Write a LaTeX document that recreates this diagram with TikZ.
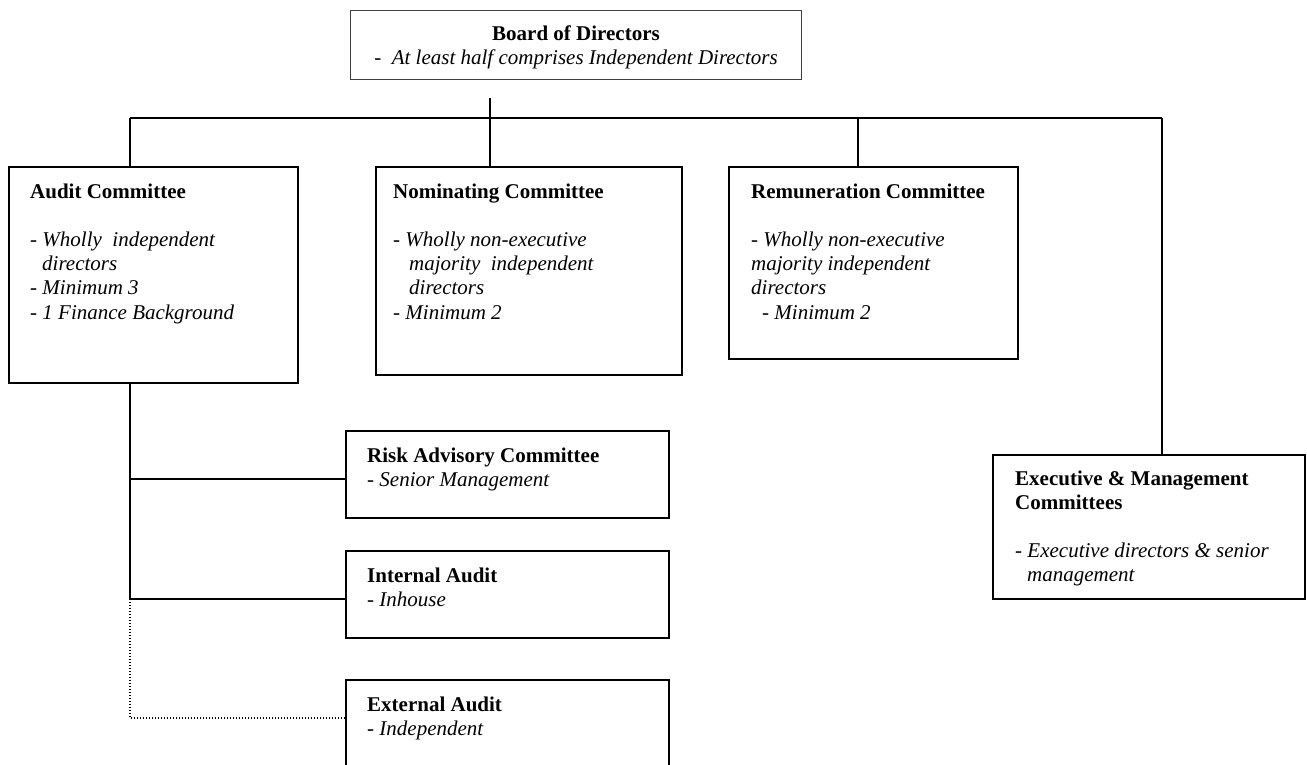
\documentclass[tikz,border=0pt]{standalone}
\usepackage{fontspec}
\setmainfont{Liberation Serif}
\newcommand\boxlines[1]{\begin{tabular}[t]{@{}l@{}}#1\end{tabular}}
\newcommand\boxlinesc[1]{\begin{tabular}[t]{@{}c@{}}#1\end{tabular}}
\begin{document}
\begin{tikzpicture}[x=1pt,y=-1pt,
  box/.style={draw, line width=1.6pt, anchor=north west, inner sep=0pt, outer sep=0pt},
  topbox/.style={draw=black!75, line width=1pt, anchor=north west, inner sep=0pt, outer sep=0pt},
  txt/.style={anchor=base west, inner sep=0pt, font=\fontsize{21}{24.2}\selectfont},
  conn/.style={line width=1.6pt},
  dotconn/.style={line width=1.3pt, dash pattern=on 1.3pt off 1.7pt}]
\useasboundingbox (0,0) rectangle (1307,764);

% boxes
\node[topbox, minimum width=451pt, minimum height=69pt] (board) at (350,10) {};
\node[box, minimum width=289pt, minimum height=216pt] (audit) at (9,167) {};
\node[box, minimum width=306pt, minimum height=208pt] (nom) at (376,167) {};
\node[box, minimum width=289pt, minimum height=192pt] (rem) at (729,167) {};
\node[box, minimum width=323pt, minimum height=87pt] (risk) at (346,431) {};
\node[box, minimum width=323pt, minimum height=87pt] (ia) at (346,551) {};
\node[box, minimum width=323pt, minimum height=110pt] (ea) at (346,680) {};
\node[box, minimum width=312pt, minimum height=144pt] (exec) at (993,455) {};

% texts
\node[txt, anchor=base] (tboard) at (576,40) {\boxlinesc{\textbf{Board of Directors}\\ \textit{-\ \ At least half comprises Independent Directors}}};
\node[txt] (taudit) at (30,198) {\boxlines{\textbf{Audit Committee}\\ \\ \textit{- Wholly\ \ independent}\\ \hspace{12pt}\textit{directors}\\ \textit{- Minimum 3}\\ \textit{- 1 Finance Background}}};
\node[txt] (tnom) at (393,198) {\boxlines{\textbf{Nominating Committee}\\ \\ \textit{- Wholly non-executive}\\ \hspace{16pt}\textit{majority\ \ independent}\\ \hspace{16pt}\textit{directors}\\ \textit{- Minimum 2}}};
\node[txt] (trem) at (751,198) {\boxlines{\textbf{Remuneration Committee}\\ \\ \textit{- Wholly non-executive}\\ \textit{majority independent}\\ \textit{directors}\\ \hspace{11pt}\textit{- Minimum 2}}};
\node[txt] (trisk) at (367,462) {\boxlines{\textbf{Risk Advisory Committee}\\ \textit{- Senior Management}}};
\node[txt] (tia) at (367,582) {\boxlines{\textbf{Internal Audit}\\ \textit{- Inhouse}}};
\node[txt] (tea) at (367,711) {\boxlines{\textbf{External Audit}\\ \textit{- Independent}}};
\node[txt] (texec) at (1015,485) {\boxlines{\textbf{Executive \& Management}\\ \textbf{Committees}\\ \\ \textit{- Executive directors \& senior}\\ \hspace{12pt}\textit{management}}};

% connector coordinates
\coordinate (bstem) at (490,98);
\coordinate (busL) at (130,118);
\coordinate (busM) at (858,118);
\coordinate (busR) at (1162,118);
\coordinate (j1) at (130,479);
\coordinate (j2) at (130,599);
\coordinate (j3) at (130,718);

% connectors
\draw[conn] (busL) -- (busR);
\draw[conn] (bstem) -- (bstem |- nom.north);
\draw[conn] (busL) -- (busL |- audit.north);
\draw[conn] (busM) -- (busM |- rem.north);
\draw[conn] (busR) -- (busR |- exec.north);
\draw[conn] (j2 |- audit.south) -- (j2) -- (j2 -| ia.west);
\draw[conn] (j1) -- (j1 -| risk.west);
\draw[dotconn] (j2) -- (j3) -- (j3 -| ea.west);
\end{tikzpicture}
\end{document}
